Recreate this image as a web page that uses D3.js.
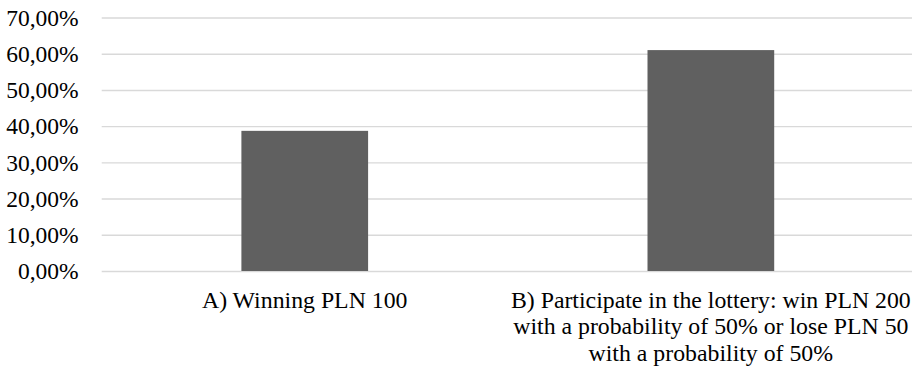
<!DOCTYPE html>
<html>
<head>
<meta charset="utf-8">
<script src="https://cdn.jsdelivr.net/npm/d3@7"></script>
<style>
  html, body { margin: 0; padding: 0; background: #ffffff; }
  svg { display: block; }
  svg text { font-family: "Liberation Serif", "Times New Roman", Tinos, "DejaVu Serif", serif; fill: #000; }
</style>
</head>
<body>
<svg id="chart" width="912" height="368"></svg>
<script>
// Share of respondents choosing each option
const categories = [
  "A) Winning PLN 100",
  "B) Participate in the lottery: win PLN 200 with a probability of 50% or lose PLN 50 with a probability of 50%"
];
const categoryLines = [
  ["A) Winning PLN 100"],
  ["B) Participate in the lottery: win PLN 200", "with a probability of 50% or lose PLN 50", "with a probability of 50%"]
];
const shares = [38.7, 61.0];
const yTicks = [0, 10, 20, 30, 40, 50, 60, 70];

const serif = '"Liberation Serif", "Times New Roman", Tinos, "DejaVu Serif", serif';

const svg = d3.select("#chart");
const plot = { left: 101.7, right: 913.9, top: 17.5, bottom: 271 };

const x = d3.scaleBand()
  .domain(categories)
  .range([plot.left, plot.right])
  .paddingInner(0.688)
  .paddingOuter(0.344);

const y = d3.scaleLinear()
  .domain([0, 70])
  .range([plot.bottom, plot.top]);

const fmt = v => v.toFixed(2).replace(".", ",") + "%";

// Horizontal gridlines with tick labels on the left
const yAxis = d3.axisLeft(y)
  .tickValues(yTicks)
  .tickSize(-(plot.right - plot.left))
  .tickPadding(23)
  .tickFormat(fmt);

const gy = svg.append("g")
  .attr("transform", `translate(${plot.left},0)`)
  .call(yAxis)
  .attr("font-family", serif);
gy.select(".domain").remove();
gy.selectAll(".tick line")
  .attr("stroke", "#d9d9d9")
  .attr("stroke-width", 1.4);
gy.selectAll(".tick text")
  .style("font-family", serif)
  .attr("font-size", "23.5px")
  .attr("fill", "#000")
  .attr("dy", "0.33em");

// Bars
svg.append("g")
  .selectAll("rect")
  .data(categories)
  .join("rect")
  .attr("x", d => x(d))
  .attr("width", x.bandwidth())
  .attr("y", (d, i) => y(shares[i]))
  .attr("height", (d, i) => y(0) - y(shares[i]))
  .attr("fill", "#606060");

// Category labels, centred under each bar
const labels = svg.append("g")
  .selectAll("text")
  .data(categories)
  .join("text")
  .style("font-family", serif)
  .attr("x", d => x(d) + x.bandwidth() / 2)
  .attr("y", 307.5)
  .attr("text-anchor", "middle")
  .attr("font-size", "23.8px");

labels.each(function(d, i) {
  const t = d3.select(this);
  categoryLines[i].forEach((line, j) => {
    t.append("tspan")
      .attr("x", x(d) + x.bandwidth() / 2)
      .attr("dy", j === 0 ? 0 : 26.7)
      .text(line);
  });
});
</script>
</body>
</html>
